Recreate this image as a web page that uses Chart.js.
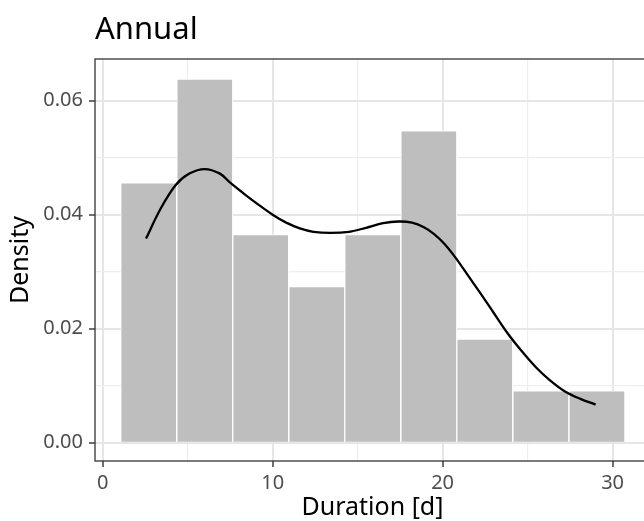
<!DOCTYPE html>
<html>
<head>
<meta charset="utf-8">
<script src="https://cdn.jsdelivr.net/npm/chart.js@4.4.1/dist/chart.umd.min.js"></script>
<style>
  html, body { margin: 0; padding: 0; background: #ffffff; overflow: hidden; }
  #wrap { width: 644px; height: 521px; overflow: hidden; }
</style>
</head>
<body>
<div id="wrap">
  <canvas id="chartAnnual" width="660" height="521"></canvas>
</div>
<script>
// Histogram bins (centres of the 9 bins) and density per bin
const binMids = [2.71, 6.01, 9.30, 12.60, 15.89, 19.19, 22.48, 25.78, 29.08];
const binDensity = [0.0456, 0.0638, 0.0365, 0.0274, 0.0365, 0.0547, 0.0182, 0.0091, 0.0091];

// Kernel density curve
const kdeX = [2.55, 3.4, 4.3, 5.1, 6.0, 6.9, 7.5, 8.3, 9.1, 10.0, 10.8, 11.6, 12.4, 13.4, 14.5,
              15.5, 16.5, 17.4, 18.2, 18.9, 19.5, 20.1, 20.8, 21.5, 22.3, 23.0, 23.8, 24.7,
              25.5, 26.3, 27.2, 28.1, 29.0];
const kdeY = [0.0358, 0.0410, 0.0452, 0.0472, 0.0480, 0.0472, 0.0456, 0.0437, 0.0419,
              0.0400, 0.0386, 0.0376, 0.0370, 0.0368, 0.0370, 0.0377, 0.0385, 0.0388, 0.0386,
              0.0378, 0.0366, 0.0349, 0.0323, 0.0293, 0.0259, 0.0228, 0.0193, 0.0159, 0.0132,
              0.0110, 0.0090, 0.0077, 0.0067];

// Axis ticks: major (labelled) and minor (grid only)
const xMajor = [0, 10, 20, 30];
const xGrid = [0, 5, 10, 15, 20, 25, 30];
const yMajor = [0, 0.02, 0.04, 0.06];
const yGrid = [0, 0.01, 0.02, 0.03, 0.04, 0.05, 0.06];

const FONT = "'Noto Sans', 'Open Sans', sans-serif";

function erMajor(v, liste) {
  return liste.some(m => Math.abs(m - v) < 1e-9);
}

// returnerer farge/bredde for major eller minor linjer
function gridVal(liste, major, minor) {
  return ctx => {
    if (!ctx.tick) return major;
    return erMajor(ctx.tick.value, liste) ? major : minor;
  };
}

// Panel ramme og tittel
const rammePlugin = {
  id: 'ramme',
  afterDraw(chart) {
    const ctx = chart.ctx;
    const a = chart.chartArea;
    ctx.save();
    ctx.strokeStyle = '#333333';
    ctx.lineWidth = 1.3;
    ctx.strokeRect(a.left, a.top, a.right - a.left, a.bottom - a.top);
    ctx.fillStyle = '#000000';
    ctx.font = "31px " + FONT;
    ctx.textAlign = 'left';
    ctx.textBaseline = 'alphabetic';
    ctx.fillText('Annual', a.left, 38.5);
    ctx.restore();
  }
};

const barData = binMids.map((x, i) => ({ x: x, y: binDensity[i] }));
const kdeData = kdeX.map((x, i) => ({ x: x, y: kdeY[i] }));

new Chart(document.getElementById('chartAnnual'), {
  type: 'bar',
  data: {
    datasets: [
      {
        type: 'line',
        label: 'Tetthet',
        data: kdeData,
        borderColor: '#000000',
        borderWidth: 2.3,
        pointRadius: 0,
        fill: false,
        tension: 0.35,
        order: 0
      },
      {
        type: 'bar',
        label: 'Histogram',
        data: barData,
        backgroundColor: '#bebebe',
        borderColor: '#ffffff',
        borderWidth: 1,
        barPercentage: 1,
        categoryPercentage: 1,
        grouped: false,
        order: 1
      }
    ]
  },
  options: {
    responsive: false,
    animation: false,
    devicePixelRatio: 1,
    layout: { padding: { top: 59, left: 0, right: 10, bottom: 0 } },
    plugins: {
      legend: { display: false },
      tooltip: { enabled: false },
      title: { display: false }
    },
    scales: {
      x: {
        type: 'linear',
        offset: false,
        min: -0.45,
        max: 32.2,
        afterFit(scale) { scale.height = 60; },
        afterBuildTicks(scale) { scale.ticks = xGrid.map(v => ({ value: v })); },
        border: { display: false },
        grid: {
          offset: false,
          color: gridVal(xMajor, '#e6e6e6', '#eeeeee'),
          lineWidth: gridVal(xMajor, 2, 1.2),
          tickColor: gridVal(xMajor, '#333333', 'rgba(0,0,0,0)'),
          tickLength: 6,
          tickWidth: 1.4
        },
        ticks: {
          autoSkip: false,
          maxRotation: 0,
          padding: 4,
          color: '#4d4d4d',
          font: { family: FONT, size: 20 },
          callback: v => erMajor(v, xMajor) ? String(v) : ''
        },
        title: {
          display: true,
          text: 'Duration [d]',
          color: '#000000',
          font: { family: FONT, size: 25 },
          padding: { top: 0, bottom: -2 }
        }
      },
      y: {
        type: 'linear',
        min: -0.0032,
        max: 0.0673,
        afterFit(scale) { scale.width = 95; },
        afterBuildTicks(scale) { scale.ticks = yGrid.map(v => ({ value: v })); },
        border: { display: false },
        grid: {
          color: gridVal(yMajor, '#e6e6e6', '#eeeeee'),
          lineWidth: gridVal(yMajor, 2, 1.2),
          tickColor: gridVal(yMajor, '#333333', 'rgba(0,0,0,0)'),
          tickLength: 6,
          tickWidth: 1.4
        },
        ticks: {
          autoSkip: false,
          padding: 6,
          color: '#4d4d4d',
          font: { family: FONT, size: 20 },
          callback: v => erMajor(v, yMajor) ? v.toFixed(2) : ''
        },
        title: {
          display: true,
          text: 'Density',
          color: '#000000',
          font: { family: FONT, size: 25 },
          padding: { top: 6, bottom: 0 }
        }
      }
    }
  },
  plugins: [rammePlugin]
});
</script>
</body>
</html>
